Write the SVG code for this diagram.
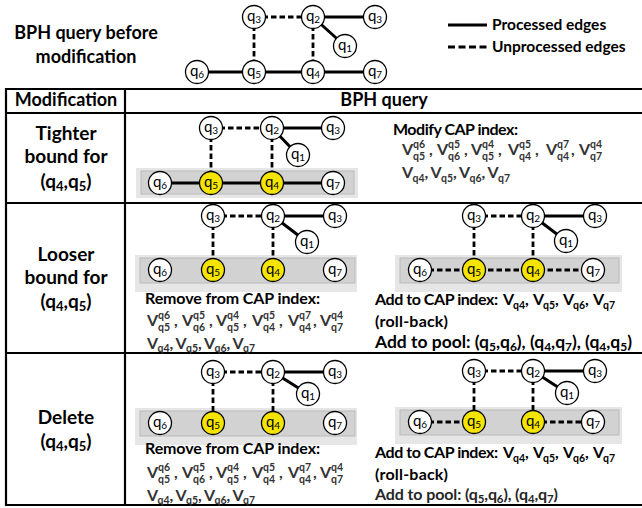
<svg xmlns="http://www.w3.org/2000/svg" width="642" height="508" viewBox="0 0 642 508">
<style>
text{font-family:Lato,"DejaVu Sans",sans-serif;fill:#000}
.title{font-size:18px;font-weight:700;text-anchor:middle}
.hdr{font-size:18px;font-weight:700;text-anchor:middle}
.lbl{font-size:19px;font-weight:700;text-anchor:middle}
.body{font-size:16px;font-weight:700}
.leg{font-size:15.5px;font-weight:700}
.v{font-size:16px;font-weight:700;fill:#333}
.vk{font-size:16px;font-weight:700}
.vs{font-size:10.5px}
.node circle{fill:#fff;stroke:#000;stroke-width:1.3}
.node.hl circle{fill:#f5e400}
.node text{font-size:15px;text-anchor:middle}
.node .sb{font-size:10px}
.edges line{stroke:#000;stroke-width:3}
.edges line.d{stroke-width:2.8;stroke-dasharray:5.5 3}
.grid line{stroke:#000;stroke-width:2.2}
.band-o{fill:#e6e6e6}
.band-i{fill:#d2d2d2;stroke:#bababa;stroke-width:1}
</style>

<!-- title and legend -->
<text class="title" x="86" y="39">BPH query before</text>
<text class="title" x="86" y="63">modification</text>
<g id="legend">
  <g class="edges"><line x1="448" y1="25" x2="487" y2="25"/><line class="d" x1="448" y1="47" x2="487" y2="47" style="stroke-dasharray:7 3.5"/></g>
  <text class="leg" x="492" y="30">Processed edges</text>
  <text class="leg" x="492" y="52">Unprocessed edges</text>
</g>

<!-- highlighted node bands -->
<g id="bands">
  <rect class="band-o" x="136" y="168" width="222" height="30"/><rect class="band-i" x="141" y="171" width="213" height="23"/>
  <rect class="band-o" x="135" y="255" width="222" height="37"/><rect class="band-i" x="140" y="258" width="215" height="25"/>
  <rect class="band-o" x="395" y="255" width="227" height="37"/><rect class="band-i" x="400" y="258" width="219" height="25"/>
  <rect class="band-o" x="135" y="408" width="222" height="37"/><rect class="band-i" x="140" y="411" width="215" height="25"/>
  <rect class="band-o" x="395" y="407" width="227" height="37"/><rect class="band-i" x="400" y="410" width="219" height="25"/>
</g>

<!-- table grid -->
<g id="grid" class="grid">
  <line x1="5" y1="89" x2="642" y2="89"/>
  <line x1="5" y1="113" x2="642" y2="113"/>
  <line x1="5" y1="203" x2="642" y2="203"/>
  <line x1="5" y1="353" x2="642" y2="353"/>
  <line x1="5" y1="505" x2="642" y2="505"/>
  <line x1="6" y1="88" x2="6" y2="506"/>
  <line x1="125" y1="88" x2="125" y2="506"/>
</g>

<!-- connectors -->
<g id="connectors" class="edges">
  <!-- before modification -->
  <line class="d" x1="254" y1="17" x2="313" y2="17"/>
  <line x1="313" y1="17" x2="375" y2="17"/>
  <line x1="313" y1="17" x2="345" y2="46"/>
  <line class="d" x1="254" y1="17" x2="254" y2="72"/>
  <line class="d" x1="313" y1="17" x2="313" y2="72"/>
  <line x1="197" y1="72" x2="375" y2="72"/>
  <!-- tighter bound -->
  <line class="d" x1="211" y1="128" x2="272" y2="128"/>
  <line x1="272" y1="128" x2="333" y2="128"/>
  <line x1="272" y1="128" x2="298" y2="155"/>
  <line class="d" x1="211" y1="128" x2="211" y2="183"/>
  <line class="d" x1="272" y1="128" x2="272" y2="183"/>
  <line x1="160" y1="183" x2="333" y2="183"/>
  <!-- looser bound, removed -->
  <line class="d" x1="213" y1="216" x2="273" y2="216"/>
  <line x1="273" y1="216" x2="335" y2="216"/>
  <line x1="273" y1="216" x2="307" y2="242"/>
  <line class="d" x1="213" y1="216" x2="213" y2="270"/>
  <line class="d" x1="273" y1="216" x2="273" y2="270"/>
  <!-- looser bound, rolled back -->
  <line class="d" x1="474" y1="216" x2="533" y2="216"/>
  <line x1="533" y1="216" x2="595" y2="216"/>
  <line x1="533" y1="216" x2="566" y2="241"/>
  <line class="d" x1="474" y1="216" x2="474" y2="270"/>
  <line class="d" x1="533" y1="216" x2="533" y2="270"/>
  <line class="d" x1="420" y1="270" x2="593" y2="270"/>
  <!-- delete, removed -->
  <line class="d" x1="213" y1="372" x2="273" y2="372"/>
  <line x1="273" y1="372" x2="335" y2="372"/>
  <line x1="273" y1="372" x2="308" y2="394"/>
  <line class="d" x1="213" y1="372" x2="213" y2="423"/>
  <line class="d" x1="273" y1="372" x2="273" y2="423"/>
  <!-- delete, rolled back -->
  <line class="d" x1="474" y1="371" x2="533" y2="371"/>
  <line x1="533" y1="371" x2="595" y2="371"/>
  <line x1="533" y1="371" x2="567" y2="393"/>
  <line class="d" x1="474" y1="371" x2="474" y2="422"/>
  <line class="d" x1="533" y1="371" x2="533" y2="422"/>
  <line class="d" x1="420" y1="422" x2="474" y2="422"/>
  <line class="d" x1="533" y1="422" x2="593" y2="422"/>
</g>

<!-- nodes: before modification -->
<g id="top-q3" class="node" transform="translate(254,17)"><circle r="11.5"/><text y="4">q<tspan class="sb" dy="2">3</tspan></text></g>
<g id="top-q2" class="node" transform="translate(313,17)"><circle r="11.5"/><text y="4">q<tspan class="sb" dy="2">2</tspan></text></g>
<g id="top-q3b" class="node" transform="translate(375,17)"><circle r="11.5"/><text y="4">q<tspan class="sb" dy="2">3</tspan></text></g>
<g id="top-q1" class="node" transform="translate(345,46)"><circle r="11.5"/><text y="4">q<tspan class="sb" dy="2">1</tspan></text></g>
<g id="top-q6" class="node" transform="translate(197,72)"><circle r="11.5"/><text y="4">q<tspan class="sb" dy="2">6</tspan></text></g>
<g id="top-q5" class="node" transform="translate(254,72)"><circle r="11.5"/><text y="4">q<tspan class="sb" dy="2">5</tspan></text></g>
<g id="top-q4" class="node" transform="translate(313,72)"><circle r="11.5"/><text y="4">q<tspan class="sb" dy="2">4</tspan></text></g>
<g id="top-q7" class="node" transform="translate(375,72)"><circle r="11.5"/><text y="4">q<tspan class="sb" dy="2">7</tspan></text></g>

<!-- nodes: tighter bound -->
<g id="r1-q3" class="node" transform="translate(211,128)"><circle r="11.5"/><text y="4">q<tspan class="sb" dy="2">3</tspan></text></g>
<g id="r1-q2" class="node" transform="translate(272,128)"><circle r="11.5"/><text y="4">q<tspan class="sb" dy="2">2</tspan></text></g>
<g id="r1-q3b" class="node" transform="translate(333,128)"><circle r="11.5"/><text y="4">q<tspan class="sb" dy="2">3</tspan></text></g>
<g id="r1-q1" class="node" transform="translate(298,155)"><circle r="11.5"/><text y="4">q<tspan class="sb" dy="2">1</tspan></text></g>
<g id="r1-q6" class="node" transform="translate(160,183)"><circle r="11.5"/><text y="4">q<tspan class="sb" dy="2">6</tspan></text></g>
<g id="r1-q5" class="node hl" transform="translate(211,183)"><circle r="11.5"/><text y="4">q<tspan class="sb" dy="2">5</tspan></text></g>
<g id="r1-q4" class="node hl" transform="translate(272,183)"><circle r="11.5"/><text y="4">q<tspan class="sb" dy="2">4</tspan></text></g>
<g id="r1-q7" class="node" transform="translate(333,183)"><circle r="11.5"/><text y="4">q<tspan class="sb" dy="2">7</tspan></text></g>

<!-- nodes: looser bound, removed -->
<g id="r2a-q3" class="node" transform="translate(213,216)"><circle r="11.5"/><text y="4">q<tspan class="sb" dy="2">3</tspan></text></g>
<g id="r2a-q2" class="node" transform="translate(273,216)"><circle r="11.5"/><text y="4">q<tspan class="sb" dy="2">2</tspan></text></g>
<g id="r2a-q3b" class="node" transform="translate(335,216)"><circle r="11.5"/><text y="4">q<tspan class="sb" dy="2">3</tspan></text></g>
<g id="r2a-q1" class="node" transform="translate(307,242)"><circle r="11.5"/><text y="4">q<tspan class="sb" dy="2">1</tspan></text></g>
<g id="r2a-q6" class="node" transform="translate(160,270)"><circle r="11.5"/><text y="4">q<tspan class="sb" dy="2">6</tspan></text></g>
<g id="r2a-q5" class="node hl" transform="translate(213,270)"><circle r="11.5"/><text y="4">q<tspan class="sb" dy="2">5</tspan></text></g>
<g id="r2a-q4" class="node hl" transform="translate(273,270)"><circle r="11.5"/><text y="4">q<tspan class="sb" dy="2">4</tspan></text></g>
<g id="r2a-q7" class="node" transform="translate(335,270)"><circle r="11.5"/><text y="4">q<tspan class="sb" dy="2">7</tspan></text></g>

<!-- nodes: looser bound, rolled back -->
<g id="r2b-q3" class="node" transform="translate(474,216)"><circle r="11.5"/><text y="4">q<tspan class="sb" dy="2">3</tspan></text></g>
<g id="r2b-q2" class="node" transform="translate(533,216)"><circle r="11.5"/><text y="4">q<tspan class="sb" dy="2">2</tspan></text></g>
<g id="r2b-q3b" class="node" transform="translate(595,216)"><circle r="11.5"/><text y="4">q<tspan class="sb" dy="2">3</tspan></text></g>
<g id="r2b-q1" class="node" transform="translate(566,241)"><circle r="11.5"/><text y="4">q<tspan class="sb" dy="2">1</tspan></text></g>
<g id="r2b-q6" class="node" transform="translate(420,270)"><circle r="11.5"/><text y="4">q<tspan class="sb" dy="2">6</tspan></text></g>
<g id="r2b-q5" class="node hl" transform="translate(474,270)"><circle r="11.5"/><text y="4">q<tspan class="sb" dy="2">5</tspan></text></g>
<g id="r2b-q4" class="node hl" transform="translate(533,270)"><circle r="11.5"/><text y="4">q<tspan class="sb" dy="2">4</tspan></text></g>
<g id="r2b-q7" class="node" transform="translate(593,270)"><circle r="11.5"/><text y="4">q<tspan class="sb" dy="2">7</tspan></text></g>

<!-- nodes: delete, removed -->
<g id="r3a-q3" class="node" transform="translate(213,372)"><circle r="11.5"/><text y="4">q<tspan class="sb" dy="2">3</tspan></text></g>
<g id="r3a-q2" class="node" transform="translate(273,372)"><circle r="11.5"/><text y="4">q<tspan class="sb" dy="2">2</tspan></text></g>
<g id="r3a-q3b" class="node" transform="translate(335,372)"><circle r="11.5"/><text y="4">q<tspan class="sb" dy="2">3</tspan></text></g>
<g id="r3a-q1" class="node" transform="translate(308,394)"><circle r="11.5"/><text y="4">q<tspan class="sb" dy="2">1</tspan></text></g>
<g id="r3a-q6" class="node" transform="translate(160,423)"><circle r="11.5"/><text y="4">q<tspan class="sb" dy="2">6</tspan></text></g>
<g id="r3a-q5" class="node hl" transform="translate(213,423)"><circle r="11.5"/><text y="4">q<tspan class="sb" dy="2">5</tspan></text></g>
<g id="r3a-q4" class="node hl" transform="translate(273,423)"><circle r="11.5"/><text y="4">q<tspan class="sb" dy="2">4</tspan></text></g>
<g id="r3a-q7" class="node" transform="translate(335,423)"><circle r="11.5"/><text y="4">q<tspan class="sb" dy="2">7</tspan></text></g>

<!-- nodes: delete, rolled back -->
<g id="r3b-q3" class="node" transform="translate(474,371)"><circle r="11.5"/><text y="4">q<tspan class="sb" dy="2">3</tspan></text></g>
<g id="r3b-q2" class="node" transform="translate(533,371)"><circle r="11.5"/><text y="4">q<tspan class="sb" dy="2">2</tspan></text></g>
<g id="r3b-q3b" class="node" transform="translate(595,371)"><circle r="11.5"/><text y="4">q<tspan class="sb" dy="2">3</tspan></text></g>
<g id="r3b-q1" class="node" transform="translate(567,393)"><circle r="11.5"/><text y="4">q<tspan class="sb" dy="2">1</tspan></text></g>
<g id="r3b-q6" class="node" transform="translate(420,422)"><circle r="11.5"/><text y="4">q<tspan class="sb" dy="2">6</tspan></text></g>
<g id="r3b-q5" class="node hl" transform="translate(474,422)"><circle r="11.5"/><text y="4">q<tspan class="sb" dy="2">5</tspan></text></g>
<g id="r3b-q4" class="node hl" transform="translate(533,422)"><circle r="11.5"/><text y="4">q<tspan class="sb" dy="2">4</tspan></text></g>
<g id="r3b-q7" class="node" transform="translate(593,422)"><circle r="11.5"/><text y="4">q<tspan class="sb" dy="2">7</tspan></text></g>

<!-- table header -->
<text class="hdr" x="66" y="106">Modification</text>
<text class="hdr" x="384" y="106">BPH query</text>

<!-- row labels -->
<text class="lbl" x="66" y="140">Tighter</text>
<text class="lbl" x="66" y="163">bound for</text>
<text class="lbl" x="66" y="188">(q<tspan font-size="13" dy="3">4</tspan><tspan dy="-3">,q</tspan><tspan font-size="13" dy="3">5</tspan><tspan dy="-3">)</tspan></text>
<text class="lbl" x="66" y="261">Looser</text>
<text class="lbl" x="66" y="284">bound for</text>
<text class="lbl" x="66" y="308">(q<tspan font-size="13" dy="3">4</tspan><tspan dy="-3">,q</tspan><tspan font-size="13" dy="3">5</tspan><tspan dy="-3">)</tspan></text>
<text class="lbl" x="66" y="424">Delete</text>
<text class="lbl" x="66" y="448">(q<tspan font-size="13" dy="3">4</tspan><tspan dy="-3">,q</tspan><tspan font-size="13" dy="3">5</tspan><tspan dy="-3">)</tspan></text>

<!-- tighter bound: index update -->
<text class="body" x="393" y="134.5" textLength="125">Modify CAP index:</text>
<text class="v"><tspan x="402" y="155">V</tspan><tspan class="vs" x="413" y="148">q6</tspan><tspan class="vs" x="413" y="160">q5</tspan><tspan x="429" y="155">,</tspan><tspan x="437" y="155">V</tspan><tspan class="vs" x="448" y="148">q5</tspan><tspan class="vs" x="448" y="160">q6</tspan><tspan x="464" y="155">,</tspan><tspan x="471" y="155">V</tspan><tspan class="vs" x="482" y="148">q4</tspan><tspan class="vs" x="482" y="160">q5</tspan><tspan x="498" y="155">,</tspan><tspan x="508" y="155">V</tspan><tspan class="vs" x="519" y="148">q5</tspan><tspan class="vs" x="519" y="160">q4</tspan><tspan x="535" y="155">,</tspan><tspan x="546" y="155">V</tspan><tspan class="vs" x="557" y="148">q7</tspan><tspan class="vs" x="557" y="160">q4</tspan><tspan x="571" y="155">,</tspan><tspan x="579" y="155">V</tspan><tspan class="vs" x="590" y="148">q4</tspan><tspan class="vs" x="590" y="160">q7</tspan></text>
<text class="v"><tspan x="402" y="178">V</tspan><tspan class="vs" x="412.5" y="182">q4</tspan><tspan x="424.5" y="178">,</tspan><tspan x="430.5" y="178">V</tspan><tspan class="vs" x="441" y="182">q5</tspan><tspan x="453" y="178">,</tspan><tspan x="459" y="178">V</tspan><tspan class="vs" x="469.5" y="182">q6</tspan><tspan x="481.5" y="178">,</tspan><tspan x="487.5" y="178">V</tspan><tspan class="vs" x="498" y="182">q7</tspan></text>

<!-- looser bound: removed from index -->
<text class="body" x="145" y="304" textLength="175">Remove from CAP index:</text>
<text class="v"><tspan x="147" y="326">V</tspan><tspan class="vs" x="158" y="319">q6</tspan><tspan class="vs" x="158" y="331">q5</tspan><tspan x="174" y="326">,</tspan><tspan x="182" y="326">V</tspan><tspan class="vs" x="193" y="319">q5</tspan><tspan class="vs" x="193" y="331">q6</tspan><tspan x="209" y="326">,</tspan><tspan x="216" y="326">V</tspan><tspan class="vs" x="227" y="319">q4</tspan><tspan class="vs" x="227" y="331">q5</tspan><tspan x="243" y="326">,</tspan><tspan x="252" y="326">V</tspan><tspan class="vs" x="263" y="319">q5</tspan><tspan class="vs" x="263" y="331">q4</tspan><tspan x="279" y="326">,</tspan><tspan x="288" y="326">V</tspan><tspan class="vs" x="299" y="319">q7</tspan><tspan class="vs" x="299" y="331">q4</tspan><tspan x="313" y="326">,</tspan><tspan x="320" y="326">V</tspan><tspan class="vs" x="331" y="319">q4</tspan><tspan class="vs" x="331" y="331">q7</tspan></text>
<text class="v"><tspan x="147" y="349">V</tspan><tspan class="vs" x="157.5" y="352">q4</tspan><tspan x="169.5" y="349">,</tspan><tspan x="175.5" y="349">V</tspan><tspan class="vs" x="186" y="352">q5</tspan><tspan x="198" y="349">,</tspan><tspan x="204" y="349">V</tspan><tspan class="vs" x="214.5" y="352">q6</tspan><tspan x="226.5" y="349">,</tspan><tspan x="232.5" y="349">V</tspan><tspan class="vs" x="243" y="352">q7</tspan></text>

<!-- looser bound: roll-back -->
<text class="body" x="375" y="305" textLength="123">Add to CAP index:</text>
<text class="vk"><tspan x="503" y="305">V</tspan><tspan class="vs" x="513" y="309">q4</tspan><tspan x="525" y="305">,</tspan><tspan x="533" y="305">V</tspan><tspan class="vs" x="543" y="309">q5</tspan><tspan x="555" y="305">,</tspan><tspan x="563" y="305">V</tspan><tspan class="vs" x="573" y="309">q6</tspan><tspan x="585" y="305">,</tspan><tspan x="593" y="305">V</tspan><tspan class="vs" x="603" y="309">q7</tspan></text>
<text class="body" x="375" y="327" textLength="73">(roll-back)</text>
<text class="body" x="375" y="348" style="font-size:17.5px" textLength="257">Add to pool: (q<tspan font-size="12" dy="3">5</tspan><tspan dy="-3">,q</tspan><tspan font-size="12" dy="3">6</tspan><tspan dy="-3">), (q</tspan><tspan font-size="12" dy="3">4</tspan><tspan dy="-3">,q</tspan><tspan font-size="12" dy="3">7</tspan><tspan dy="-3">), (q</tspan><tspan font-size="12" dy="3">4</tspan><tspan dy="-3">,q</tspan><tspan font-size="12" dy="3">5</tspan><tspan dy="-3">)</tspan></text>

<!-- delete: removed from index -->
<text class="body" x="145" y="454" textLength="175">Remove from CAP index:</text>
<text class="v"><tspan x="147" y="477.5">V</tspan><tspan class="vs" x="158" y="470.5">q6</tspan><tspan class="vs" x="158" y="482.5">q5</tspan><tspan x="174" y="477.5">,</tspan><tspan x="182" y="477.5">V</tspan><tspan class="vs" x="193" y="470.5">q5</tspan><tspan class="vs" x="193" y="482.5">q6</tspan><tspan x="209" y="477.5">,</tspan><tspan x="216" y="477.5">V</tspan><tspan class="vs" x="227" y="470.5">q4</tspan><tspan class="vs" x="227" y="482.5">q5</tspan><tspan x="243" y="477.5">,</tspan><tspan x="252" y="477.5">V</tspan><tspan class="vs" x="263" y="470.5">q5</tspan><tspan class="vs" x="263" y="482.5">q4</tspan><tspan x="279" y="477.5">,</tspan><tspan x="288" y="477.5">V</tspan><tspan class="vs" x="299" y="470.5">q7</tspan><tspan class="vs" x="299" y="482.5">q4</tspan><tspan x="313" y="477.5">,</tspan><tspan x="320" y="477.5">V</tspan><tspan class="vs" x="331" y="470.5">q4</tspan><tspan class="vs" x="331" y="482.5">q7</tspan></text>
<text class="v"><tspan x="147" y="500.5">V</tspan><tspan class="vs" x="157.5" y="503.5">q4</tspan><tspan x="169.5" y="500.5">,</tspan><tspan x="175.5" y="500.5">V</tspan><tspan class="vs" x="186" y="503.5">q5</tspan><tspan x="198" y="500.5">,</tspan><tspan x="204" y="500.5">V</tspan><tspan class="vs" x="214.5" y="503.5">q6</tspan><tspan x="226.5" y="500.5">,</tspan><tspan x="232.5" y="500.5">V</tspan><tspan class="vs" x="243" y="503.5">q7</tspan></text>

<!-- delete: roll-back -->
<text class="body" x="375" y="458" textLength="123">Add to CAP index:</text>
<text class="vk"><tspan x="503" y="458">V</tspan><tspan class="vs" x="513" y="461.5">q4</tspan><tspan x="525" y="458">,</tspan><tspan x="533" y="458">V</tspan><tspan class="vs" x="543" y="461.5">q5</tspan><tspan x="555" y="458">,</tspan><tspan x="563" y="458">V</tspan><tspan class="vs" x="573" y="461.5">q6</tspan><tspan x="585" y="458">,</tspan><tspan x="593" y="458">V</tspan><tspan class="vs" x="603" y="461.5">q7</tspan></text>
<text class="body" x="375" y="479.5" textLength="73">(roll-back)</text>
<text class="body" x="375" y="500" style="fill:#262626" textLength="183">Add to pool: (q<tspan font-size="11.5" dy="3">5</tspan><tspan dy="-3">,q</tspan><tspan font-size="11.5" dy="3">6</tspan><tspan dy="-3">), (q</tspan><tspan font-size="11.5" dy="3">4</tspan><tspan dy="-3">,q</tspan><tspan font-size="11.5" dy="3">7</tspan><tspan dy="-3">)</tspan></text>
</svg>
